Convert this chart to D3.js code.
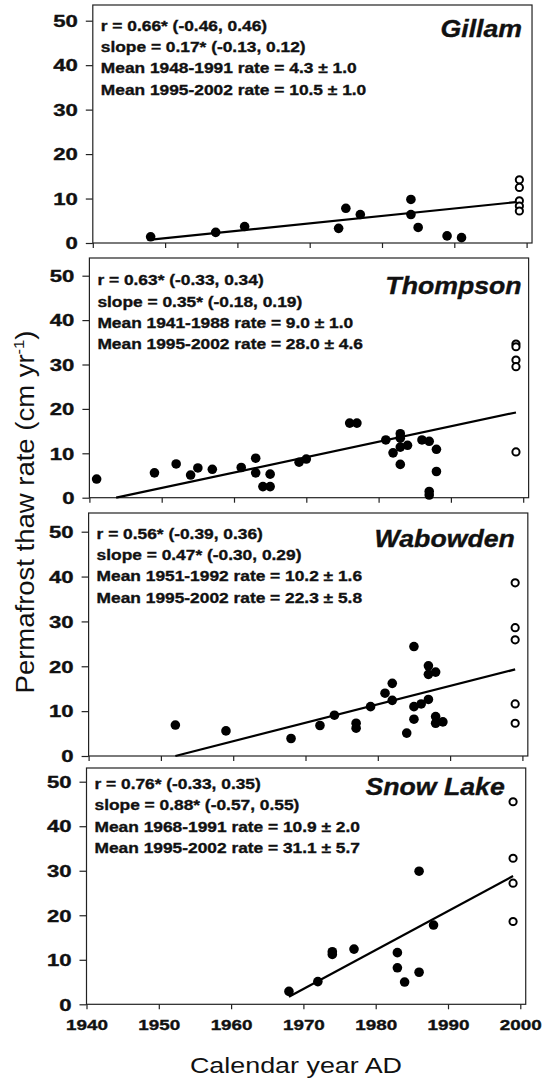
<!DOCTYPE html>
<html>
<head>
<meta charset="utf-8">
<script src="https://cdn.jsdelivr.net/npm/d3@7"></script>
<style>
  body { margin: 0; background: #fff; }
  text { font-family: "Liberation Sans", Arial, sans-serif; fill: #111; }
  .heavy { stroke: #111; stroke-width: 0.35px; }
</style>
</head>
<body>
<svg id="chart" width="542" height="1079"></svg>
<script>
// values
const siteNames = ['Gillam', 'Thompson', 'Wabowden', 'Snow Lake'];
const yTicks = [0, 10, 20, 30, 40, 50];
const xTicks = [1940, 1950, 1960, 1970, 1980, 1990, 2000];
const recentYear = 1999;

const gillamYears = [1948, 1957, 1961, 1974, 1975, 1977, 1984, 1984, 1985, 1989, 1991];
const gillamRates = [1.4, 2.4, 3.7, 3.3, 7.8, 6.4, 9.8, 6.4, 3.5, 1.6, 1.2];
const gillamRecent = [14.2, 12.5, 9.5, 8.3, 7.2];
const gillamFitYears = [1948.4, 1999.2];
const gillamFitRates = [0.8, 9.3];
const gillamStats = ['r = 0.66* (-0.46, 0.46)', 'slope = 0.17* (-0.13, 0.12)',
  'Mean 1948-1991 rate = 4.3 \u00b1 1.0', 'Mean 1995-2002 rate = 10.5 \u00b1 1.0'];

const thompsonYears = [1941, 1949, 1952, 1954, 1955, 1957, 1961, 1963, 1963, 1964, 1965, 1965, 1969, 1970,
  1976, 1977, 1981, 1982, 1983, 1983, 1983, 1983, 1984, 1986, 1987, 1987, 1987, 1988, 1988];
const thompsonRates = [4.2, 5.6, 7.6, 5.1, 6.7, 6.4, 6.8, 8.9, 5.6, 2.5, 2.5, 5.3, 8.0, 8.7,
  16.8, 16.8, 13.0, 10.1, 14.4, 13.4, 11.4, 7.5, 11.8, 13.0, 12.7, 1.4, 0.6, 10.9, 5.9];
const thompsonRecent = [34.6, 34.0, 31.0, 29.5, 10.3];
const thompsonFitYears = [1943.7, 1999];
const thompsonFitRates = [0, 19.2];
const thompsonStats = ['r = 0.63* (-0.33, 0.34)', 'slope = 0.35* (-0.18, 0.19)',
  'Mean 1941-1988 rate = 9.0 \u00b1 1.0', 'Mean 1995-2002 rate = 28.0 \u00b1 4.6'];

const wabowdenYears = [1952, 1959, 1968, 1972, 1974, 1977, 1977, 1979, 1981, 1982, 1982, 1984,
  1985, 1985, 1985, 1986, 1987, 1987, 1987, 1988, 1988, 1988, 1989];
const wabowdenRates = [6.9, 5.6, 3.9, 6.8, 9.1, 7.3, 6.2, 11.0, 14.0, 16.2, 12.4, 5.1,
  24.4, 11.0, 8.2, 11.6, 20.1, 18.2, 12.6, 18.7, 8.8, 7.3, 7.6];
const wabowdenRecent = [38.6, 28.6, 25.9, 11.6, 7.3];
const wabowdenFitYears = [1952, 1999];
const wabowdenFitRates = [0, 19.3];
const wabowdenStats = ['r = 0.56* (-0.39, 0.36)', 'slope = 0.47* (-0.30, 0.29)',
  'Mean 1951-1992 rate = 10.2 \u00b1 1.6', 'Mean 1995-2002 rate = 22.3 \u00b1 5.8'];

const snowYears = [1968, 1972, 1974, 1974, 1977, 1983, 1983, 1984, 1986, 1986, 1988];
const snowRates = [2.9, 5.1, 11.8, 11.2, 12.4, 11.6, 8.2, 5.0, 29.9, 7.2, 17.8];
const snowRecent = [45.5, 32.8, 27.2, 18.6];
const snowFitYears = [1968, 1999];
const snowFitRates = [1.7, 28.8];
const snowStats = ['r = 0.76* (-0.33, 0.35)', 'slope = 0.88* (-0.57, 0.55)',
  'Mean 1968-1991 rate = 10.9 \u00b1 2.0', 'Mean 1995-2002 rate = 31.1 \u00b1 5.7'];

// layout of the four stacked panels (the scan is not perfectly aligned)
const panelTop = [5, 258, 513, 768];
const panelZero = [243, 497.7, 756, 1004.3];
const panelFifty = [20.7, 275.7, 531.7, 781.7];
const panelX1940 = [92.8, 89.4, 88.6, 86.5];
const decadePx = 72.3;
const titleRight = [-10, -7, -13, -21];
const titleBase = [31.7, 36, 34, 26.7];
const statsBase = [25.7, 27.4, 25.6, 21];

const sites = [
  { years: gillamYears, rates: gillamRates, recent: gillamRecent, fitX: gillamFitYears, fitY: gillamFitRates, stats: gillamStats },
  { years: thompsonYears, rates: thompsonRates, recent: thompsonRecent, fitX: thompsonFitYears, fitY: thompsonFitRates, stats: thompsonStats },
  { years: wabowdenYears, rates: wabowdenRates, recent: wabowdenRecent, fitX: wabowdenFitYears, fitY: wabowdenFitRates, stats: wabowdenStats },
  { years: snowYears, rates: snowRates, recent: snowRecent, fitX: snowFitYears, fitY: snowFitRates, stats: snowStats }
];

const svg = d3.select('#chart');

// the scanned figure is stretched sideways, so horizontal text gets a scaleX
function placeText(sel, x, y, sx) {
  return sel.attr('x', 0).attr('y', 0).attr('transform', `translate(${x},${y}) scale(${sx},1)`);
}

sites.forEach((s, i) => {
  const x = d3.scaleLinear().domain([1940, 2000]).range([panelX1940[i], panelX1940[i] + decadePx * 6]);
  const y = d3.scaleLinear().domain([0, 50]).range([panelZero[i], panelFifty[i]]);
  const left = x(1940), right = x(2000.75);
  const g = svg.append('g').attr('class', 'panel');

  // axes
  const yAxis = g.append('g')
    .attr('transform', `translate(${left},0)`)
    .call(d3.axisLeft(y).tickValues(yTicks).tickSize(7).tickSizeOuter(0).tickFormat(d3.format('d')));
  yAxis.selectAll('text').each(function () {
    placeText(d3.select(this), -15, 0, 1.38).attr('dy', '0.36em');
  }).attr('class', 'heavy').style('font-size', '16px').style('font-weight', 'bold');

  const last = i === sites.length - 1;
  const xAxis = g.append('g')
    .attr('transform', `translate(0,${panelZero[i]})`)
    .call(d3.axisBottom(x).tickValues(xTicks).tickSize(5).tickSizeOuter(0)
      .tickFormat(last ? d3.format('d') : ''));
  xAxis.selectAll('text').each(function () {
    placeText(d3.select(this), 0, 25.5, 1.3).attr('dy', null);
  }).attr('class', 'heavy').style('font-size', '14.5px').style('font-weight', 'bold');

  g.selectAll('.domain').remove();
  g.selectAll('.tick line').attr('stroke', '#222').attr('stroke-width', 1.2);

  // frame
  g.append('rect')
    .attr('x', left).attr('y', panelTop[i])
    .attr('width', right - left).attr('height', panelZero[i] - panelTop[i])
    .attr('fill', 'none').attr('stroke', '#222').attr('stroke-width', 1.2);

  // regression line
  const fit = d3.line().x(d => x(d[0])).y(d => y(d[1]));
  g.append('path')
    .datum(d3.zip(s.fitX, s.fitY))
    .attr('d', fit)
    .attr('fill', 'none').attr('stroke', '#000').attr('stroke-width', 2.2);

  // measured rates
  g.selectAll('.dot')
    .data(d3.zip(s.years, s.rates))
    .enter().append('circle')
    .attr('class', 'dot')
    .attr('cx', d => x(d[0])).attr('cy', d => y(d[1]))
    .attr('r', 4.8).attr('fill', '#000');

  // 1995-2002 rates
  g.selectAll('.recent')
    .data(s.recent)
    .enter().append('circle')
    .attr('class', 'recent')
    .attr('cx', x(recentYear)).attr('cy', d => y(d))
    .attr('r', 3.6).attr('fill', '#fff').attr('stroke', '#000').attr('stroke-width', 2);

  // statistics
  g.selectAll('.stat')
    .data(s.stats)
    .enter().append('text')
    .attr('class', 'stat heavy')
    .each(function (d, k) {
      placeText(d3.select(this), left + 8, panelTop[i] + statsBase[i] + k * 21.3, 1.12);
    })
    .style('font-size', '15.5px').style('font-weight', 'bold')
    .text(d => d);

  // site name
  placeText(g.append('text'), right + titleRight[i], panelTop[i] + titleBase[i], 1.16)
    .attr('class', 'heavy')
    .attr('text-anchor', 'end')
    .style('font-size', '23px').style('font-weight', 'bold').style('font-style', 'italic')
    .text(siteNames[i]);
});

// axis titles
const yTitle = svg.append('text')
  .attr('transform', 'translate(34,512) rotate(-90) scale(1.1,1)')
  .attr('text-anchor', 'middle')
  .style('font-size', '25px');
yTitle.append('tspan').text('Permafrost thaw rate (cm yr');
yTitle.append('tspan').attr('dy', -10).style('font-size', '15px').text('-1');
yTitle.append('tspan').attr('dy', 10).text(')');

placeText(svg.append('text'), 296, 1073, 1.25)
  .attr('text-anchor', 'middle')
  .style('font-size', '21.5px')
  .text('Calendar year AD');
</script>
</body>
</html>
